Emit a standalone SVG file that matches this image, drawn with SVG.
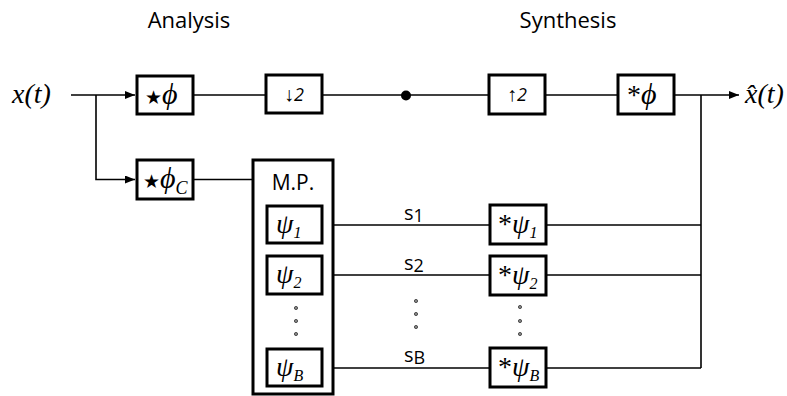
<svg xmlns="http://www.w3.org/2000/svg" width="787" height="396" viewBox="0 0 787 396">
  <style>
    .box { fill: #fff; stroke: #000; stroke-width: 3; }
    .wire { fill: none; stroke: #000; stroke-width: 1.6; }
    .title { font-family: "Open Sans", "Noto Sans", sans-serif; font-size: 22px; fill: #000; text-anchor: middle; }
    .math { font-family: "Liberation Serif", serif; font-style: italic; fill: #000; }
    .sym { font-family: "DejaVu Sans", sans-serif; fill: #000; }
    .arr { font-family: "Liberation Sans", "DejaVu Sans", sans-serif; fill: #000; }
    .lbl { font-family: "Open Sans", "Noto Sans", sans-serif; fill: #000; }
    .dot { fill: #888; stroke: #333; stroke-width: 0.8; }
  </style>
  <defs>
    <marker id="arrow" viewBox="0 0 10 8" refX="10" refY="4" markerWidth="10" markerHeight="8" markerUnits="userSpaceOnUse" orient="auto">
      <path d="M0,0 L10,4 L0,8 Z" fill="#000"/>
    </marker>
  </defs>

  <rect width="787" height="396" fill="#fff"/>

  <!-- section headings -->
  <text class="title" x="189" y="28">Analysis</text>
  <text class="title" x="568" y="28">Synthesis</text>

  <!-- signal names -->
  <text class="math" x="12" y="103" font-size="28">x(t)</text>
  <text class="math" x="745" y="103" font-size="28">x&#x302;(t)</text>

  <g id="connectors">
    <!-- input split -->
    <polyline class="wire" points="71,95 135,95" marker-end="url(#arrow)"/>
    <polyline class="wire" points="96,95 96,179.5 135,179.5" marker-end="url(#arrow)"/>
    <!-- low-pass path -->
    <line class="wire" x1="193" y1="95" x2="266" y2="95"/>
    <line class="wire" x1="322" y1="95" x2="489" y2="95"/>
    <line class="wire" x1="545" y1="95" x2="618" y2="95"/>
    <polyline class="wire" points="674,95 739,95" marker-end="url(#arrow)"/>
    <!-- summing bus -->
    <line class="wire" x1="701" y1="95" x2="701" y2="368"/>
    <!-- matching-pursuit path -->
    <line class="wire" x1="193" y1="179.5" x2="253" y2="179.5"/>
    <line class="wire" x1="322" y1="225" x2="490" y2="225"/>
    <line class="wire" x1="546" y1="225" x2="701" y2="225"/>
    <line class="wire" x1="322" y1="275" x2="490" y2="275"/>
    <line class="wire" x1="546" y1="275" x2="701" y2="275"/>
    <line class="wire" x1="322" y1="368" x2="490" y2="368"/>
    <line class="wire" x1="546" y1="368" x2="701" y2="368"/>
    <circle cx="406" cy="95.5" r="5" fill="#000"/>
  </g>

  <!-- coefficient labels -->
  <text class="lbl" x="404" y="220" font-size="20">s<tspan font-size="18" dy="2">1</tspan></text>
  <text class="lbl" x="404" y="270" font-size="20">s<tspan font-size="18" dy="2">2</tspan></text>
  <text class="lbl" x="404" y="362" font-size="20">s<tspan font-size="18" dy="2">B</tspan></text>
  <g id="dots-mid">
    <circle class="dot" cx="416" cy="301" r="1.6"/>
    <circle class="dot" cx="416" cy="314" r="1.6"/>
    <circle class="dot" cx="416" cy="327" r="1.6"/>
  </g>

  <g id="conv-phi">
    <rect class="box" x="137" y="76" width="56" height="38"/>
    <text x="145" y="104" font-size="28"><tspan class="sym" font-size="19">★</tspan><tspan class="math" font-size="30">ϕ</tspan></text>
  </g>

  <g id="down2">
    <rect class="box" x="266" y="75" width="56" height="38"/>
    <text x="294" y="101" font-size="18" text-anchor="middle"><tspan class="arr" font-size="20" font-style="italic">↓</tspan><tspan class="lbl" font-size="18" font-style="italic">2</tspan></text>
  </g>

  <g id="up2">
    <rect class="box" x="489" y="75" width="56" height="39"/>
    <text x="517" y="101" font-size="18" text-anchor="middle"><tspan class="arr" font-size="20" font-style="italic">↑</tspan><tspan class="lbl" font-size="18" font-style="italic">2</tspan></text>
  </g>

  <g id="synth-phi">
    <rect class="box" x="618" y="75" width="56" height="39"/>
    <text x="627" y="104" font-size="28"><tspan font-family="Liberation Serif, serif" font-size="28">*</tspan><tspan class="math" font-size="30">ϕ</tspan></text>
  </g>

  <g id="conv-phic">
    <rect class="box" x="137" y="160" width="56" height="39"/>
    <text x="143" y="188" font-size="28"><tspan class="sym" font-size="19">★</tspan><tspan class="math" font-size="30">ϕ</tspan><tspan class="math" font-size="18" dy="6">C</tspan></text>
  </g>

  <g id="mp">
    <rect class="box" x="253" y="160" width="80" height="234"/>
    <text class="lbl" x="293" y="190" font-size="21" text-anchor="middle">M.P.</text>
    <g id="atom1">
      <rect class="box" x="267" y="206" width="55" height="37"/>
      <text x="276" y="233" font-size="28"><tspan class="math" font-size="28">ψ</tspan><tspan class="math" font-size="16" dy="5">1</tspan></text>
    </g>
    <g id="atom2">
      <rect class="box" x="267" y="256" width="55" height="38"/>
      <text x="276" y="283" font-size="28"><tspan class="math" font-size="28">ψ</tspan><tspan class="math" font-size="16" dy="5">2</tspan></text>
    </g>
    <circle class="dot" cx="296" cy="308" r="1.6"/>
    <circle class="dot" cx="296" cy="321" r="1.6"/>
    <circle class="dot" cx="296" cy="334" r="1.6"/>
    <g id="atomB">
      <rect class="box" x="267" y="349" width="55" height="37"/>
      <text x="276" y="376" font-size="28"><tspan class="math" font-size="28">ψ</tspan><tspan class="math" font-size="16" dy="5">B</tspan></text>
    </g>
  </g>

  <g id="synth1">
    <rect class="box" x="490" y="205" width="56" height="39"/>
    <text x="498" y="233" font-size="28"><tspan font-family="Liberation Serif, serif" font-size="28">*</tspan><tspan class="math" font-size="28">ψ</tspan><tspan class="math" font-size="16" dy="5">1</tspan></text>
  </g>
  <g id="synth2">
    <rect class="box" x="490" y="256" width="56" height="39"/>
    <text x="498" y="284" font-size="28"><tspan font-family="Liberation Serif, serif" font-size="28">*</tspan><tspan class="math" font-size="28">ψ</tspan><tspan class="math" font-size="16" dy="5">2</tspan></text>
  </g>
  <g id="dots-right">
    <circle class="dot" cx="520" cy="307" r="1.6"/>
    <circle class="dot" cx="520" cy="321" r="1.6"/>
    <circle class="dot" cx="520" cy="334" r="1.6"/>
  </g>
  <g id="synthB">
    <rect class="box" x="490" y="348" width="56" height="39"/>
    <text x="498" y="376" font-size="28"><tspan font-family="Liberation Serif, serif" font-size="28">*</tspan><tspan class="math" font-size="28">ψ</tspan><tspan class="math" font-size="16" dy="5">B</tspan></text>
  </g>
</svg>
